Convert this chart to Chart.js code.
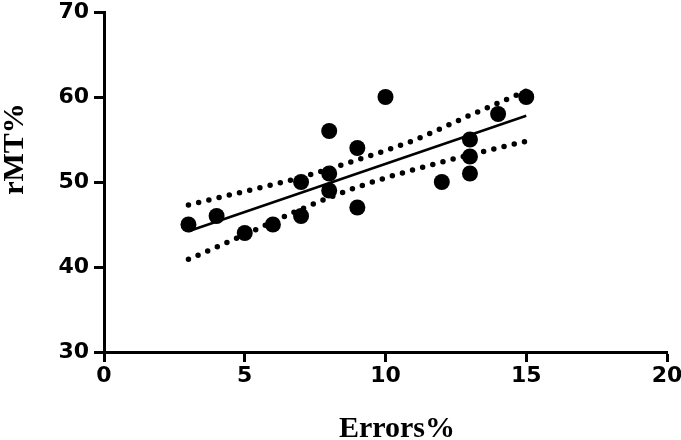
<!DOCTYPE html>
<html>
<head>
<meta charset="utf-8">
<script src="https://cdn.jsdelivr.net/npm/chart.js@4"></script>
<style>
  html, body { margin: 0; padding: 0; background: #fff; }
  #wrap { width: 681px; height: 440px; }
</style>
</head>
<body>
<div id="wrap"><canvas id="scatterChart"></canvas></div>
<script>
// Dữ liệu
const errorsX = [3, 4, 5, 6, 7, 7, 8, 8, 8, 9, 9, 10, 12, 13, 13, 13, 14, 15];
const rmtY = [45, 46, 44, 45, 46, 50, 49, 51, 56, 54, 47, 60, 50, 51, 53, 55, 58, 60];

// Đường hồi quy
const fitX = [3, 15];
const fitY = [44.2, 57.8];

// Dải tin cậy (chấm)
const bandX = [3, 5, 7, 9, 11, 13, 15];
const bandUpper = [47.3, 48.9, 50.55, 52.6, 54.9, 57.85, 60.7];
const bandLower = [40.9, 43.8, 46.8, 49.4, 51.45, 53.2, 54.8];

const xTicks = [0, 5, 10, 15, 20];
const yTicks = [30, 40, 50, 60, 70];

const xTitle = 'Errors%';
const yTitle = 'rMT%';

const toPoints = (xs, ys) => xs.map((x, i) => ({ x: x, y: ys[i] }));

// Vẽ tiêu đề trục bằng tay để đặt đúng chỗ
const axisTitles = {
    id: 'axisTitles',
    afterDraw(chart) {
        const ctx = chart.ctx;
        ctx.save();
        ctx.fillStyle = '#000';
        ctx.font = 'bold 30px "Liberation Serif"';
        ctx.textAlign = 'center';
        ctx.textBaseline = 'alphabetic';
        ctx.fillText(xTitle, 397, 437);
        ctx.translate(23, 149);
        ctx.rotate(-Math.PI / 2);
        ctx.fillText(yTitle, 0, 0);
        ctx.restore();
    }
};

const axisGrid = {
    display: true,
    drawOnChartArea: false,
    drawTicks: true,
    tickLength: 10,
    tickWidth: 3,
    tickColor: '#000',
    color: '#000'
};
const axisBorder = { display: true, color: '#000', width: 3 };
const tickFont = { family: '"DejaVu Sans"', size: 22, weight: 'bold', lineHeight: 1 };

new Chart(document.getElementById('scatterChart'), {
    type: 'scatter',
    data: {
        datasets: [
            {
                label: 'Upper',
                type: 'line',
                data: toPoints(bandX, bandUpper),
                borderColor: '#000',
                borderWidth: 5.5,
                borderDash: [0, 10.5],
                borderCapStyle: 'round',
                cubicInterpolationMode: 'monotone',
                pointRadius: 0,
                fill: false
            },
            {
                label: 'Lower',
                type: 'line',
                data: toPoints(bandX, bandLower),
                borderColor: '#000',
                borderWidth: 5.5,
                borderDash: [0, 10.5],
                borderCapStyle: 'round',
                cubicInterpolationMode: 'monotone',
                pointRadius: 0,
                fill: false
            },
            {
                label: 'Fit',
                type: 'line',
                data: toPoints(fitX, fitY),
                borderColor: '#000',
                borderWidth: 2.5,
                pointRadius: 0,
                fill: false
            },
            {
                label: 'rMT%',
                data: toPoints(errorsX, rmtY),
                backgroundColor: '#000',
                borderWidth: 0,
                pointRadius: 8,
                pointHoverRadius: 8
            }
        ]
    },
    options: {
        responsive: true,
        maintainAspectRatio: false,
        animation: false,
        layout: { padding: { top: 12, right: 14, left: 0, bottom: 0 } },
        scales: {
            x: {
                type: 'linear',
                min: 0,
                max: 20,
                afterFit: (scale) => {
                    scale.height = 88;
                    scale.paddingLeft = 0;
                    scale.paddingRight = 0;
                },
                afterBuildTicks: (scale) => { scale.ticks = xTicks.map(v => ({ value: v })); },
                grid: axisGrid,
                border: axisBorder,
                ticks: { color: '#000', font: tickFont, padding: 3, maxRotation: 0 }
            },
            y: {
                type: 'linear',
                min: 30,
                max: 70,
                afterFit: (scale) => {
                    scale.width = 104;
                    scale.paddingTop = 0;
                    scale.paddingBottom = 0;
                },
                afterBuildTicks: (scale) => { scale.ticks = yTicks.map(v => ({ value: v })); },
                grid: axisGrid,
                border: axisBorder,
                ticks: { color: '#000', font: tickFont, padding: 5 }
            }
        },
        plugins: {
            legend: { display: false },
            tooltip: { enabled: false }
        }
    },
    plugins: [axisTitles]
});
</script>
</body>
</html>
